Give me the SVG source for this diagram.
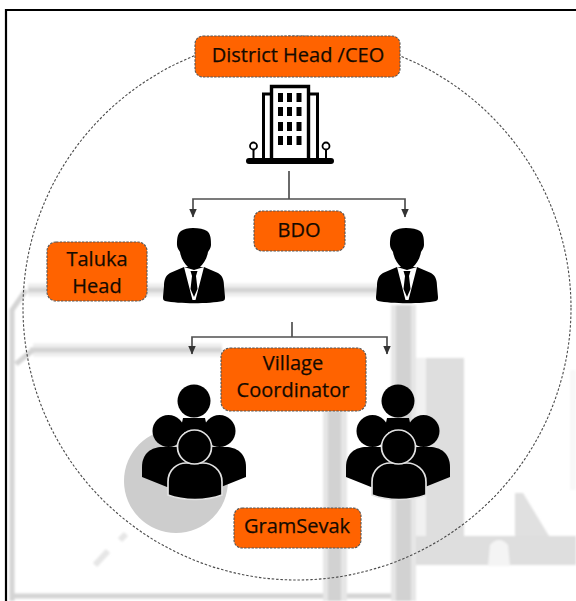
<svg xmlns="http://www.w3.org/2000/svg" width="576" height="601" viewBox="0 0 576 601">
<style>
.box{fill:#ff6300;stroke:#555;stroke-width:1.100;stroke-dasharray:2.500 1.200}
.t{font-family:"Open Sans","Noto Sans",sans-serif;font-size:20px;fill:#140a00;stroke:#140a00;stroke-width:.25;text-anchor:middle}
.conn{fill:none;stroke:#505050;stroke-width:1.700}
.k{fill:#000}
.halo{fill:#000;stroke:#e2e2e2;stroke-width:1.700}
.bar{fill:none;stroke:#d4d4d4}
.bar2{fill:none;stroke:#eeeeee}
</style>
<defs>
<filter id="soft" x="-5%" y="-5%" width="110%" height="110%"><feGaussianBlur stdDeviation="1.200"/></filter>
<marker id="arr" viewBox="0 0 9 9" refX="8.500" refY="4.500" markerWidth="9" markerHeight="9" markerUnits="userSpaceOnUse" orient="auto-start-reverse"><path d="M0 0.500L9 4.500L0 8.500Z" fill="#333"/></marker>
<g id="man">
<path class="k" d="M-1-55C-6-55-10-54-13-52C-17-49-17-43-17-38C-17-35-15-33-14-31C-13-24-9-19-6-16L-6-13L6-13L6-16C9-19 13-24 14-31C15-33 17-35 17-38C17-43 17-49 13-52C10-54 5-55-1-55Z"/>
<path class="k" d="M-10-16L-24-10C-29-7-30-2-30 3L-31 14C-31 16-31 17-29 18C-15 21 15 21 29 18C31 17 31 16 31 14L30 3C30-2 29-7 24-10L10-16Z"/>
<path fill="#fff" d="M-10-16L0-13L10-16L1.500 17L-1.500 17Z"/>
<path class="k" d="M-3.500-12L3.500-12L2-7L3.500 6L0 14L-3.500 6L-2-7Z"/>
</g>
<g id="group">
<circle class="k" cx="0" cy="-101" r="16.500"/>
<path class="k" d="M-11-84L11-84L14-70L-14-70Z"/>
<circle class="k" cx="-25.500" cy="-71" r="16"/>
<circle class="k" cx="25.500" cy="-71" r="16"/>
<path class="k" d="M-52-25L-52-35C-52-49-42-55-32-55L32-55C42-55 52-49 52-35L52-25L27-15L-27-15Z"/>
<path class="halo" d="M-26-7L-26-20C-26-33-16-39-8-39L9-39C17-39 28-33 28-20L28-7C12-1-10-1-26-7Z"/>
<circle class="halo" cx="0.500" cy="-55" r="17"/>
</g>
</defs>
<rect width="576" height="601" fill="#fff"/>
<g id="background" filter="url(#soft)">
<path class="bar2" stroke-width="13" d="M33 350H222M28 290H385"/>
<path class="bar" stroke-width="5" d="M30 350H222M28 290H385M12 601V310L26 290M33 350L16 364M10 596H400"/>
<rect x="391" y="305" width="25" height="296" fill="#e6e6e6"/>
<rect x="396" y="305" width="15" height="296" fill="#d2d2d2"/>
<rect x="323" y="411" width="24" height="190" fill="#e6e6e6"/>
<rect x="328" y="411" width="13" height="190" fill="#d2d2d2"/>
<rect x="416" y="358" width="10" height="178" fill="#f1f1f1"/>
<rect x="426" y="358" width="38" height="178" fill="#dedede"/>
<path fill="#dedede" d="M416 536H576V565H416Z"/>
<path fill="#f4f4f4" d="M490 545Q499 535 508 545L510 566H488Z"/>
<path fill="#e0e0e0" d="M515 493L523 493L549 536L515 536Z"/>
<rect x="570" y="370" width="6" height="120" fill="#f8f8f8"/>
<path fill="none" stroke="#e6e6e6" stroke-width="6" d="M95 565L108 551M120 540L126 534"/>
</g>
<circle cx="176" cy="481" r="52" fill="#cdcdcd"/>
<ellipse id="boundary" cx="297" cy="308" rx="274" ry="272" fill="none" stroke="#4a4a4a" stroke-width="1.100" stroke-dasharray="2.500 1.800"/>
<path id="frame" d="M6 601V10H576" fill="none" stroke="#000" stroke-width="2.200"/>
<g id="connectors">
<path class="conn" d="M289 171V199"/>
<path class="conn" d="M193 217V199H405V217" marker-start="url(#arr)" marker-end="url(#arr)"/>
<path class="conn" d="M292 322V337"/>
<path class="conn" d="M192 354V337H387V354" marker-start="url(#arr)" marker-end="url(#arr)"/>
</g>
<g id="district-head"><rect class="box" x="195" y="36" width="205" height="41" rx="8"/><text class="t" x="298" y="62">District Head /CEO</text></g>
<g id="building" fill="none" stroke="#000">
<path stroke-width="3.400" d="M271.500 160V86.500H308.500V160"/>
<path stroke-width="3" d="M263.500 160V94H271M309 94H317.500V160"/>
<path stroke-width="6" stroke-linecap="round" d="M249 161H331"/>
<circle cx="253.500" cy="146" r="3.500" stroke-width="1.800"/><path stroke-width="2" d="M253.500 150V159"/>
<circle cx="326" cy="146" r="3.500" stroke-width="1.800"/><path stroke-width="2" d="M326 150V159"/>
<g fill="#000" stroke="none">
<rect x="278" y="93" width="5" height="9"/><rect x="287" y="93" width="5" height="9"/><rect x="296.500" y="93" width="5" height="9"/>
<rect x="278" y="107" width="5" height="9"/><rect x="287" y="107" width="5" height="9"/><rect x="296.500" y="107" width="5" height="9"/>
<rect x="278" y="122" width="5" height="9"/><rect x="287" y="122" width="5" height="9"/><rect x="296.500" y="122" width="5" height="9"/>
<rect x="278" y="136" width="5" height="9"/><rect x="287" y="136" width="5" height="9"/><rect x="296.500" y="136" width="5" height="9"/>
</g>
</g>
<g id="bdo"><rect class="box" x="254" y="211" width="91" height="40" rx="8"/><text class="t" x="299" y="237">BDO</text></g>
<g id="taluka-head"><rect class="box" x="47" y="242" width="100" height="59" rx="9"/><text class="t" x="97" y="266">Taluka</text><text class="t" x="97" y="293">Head</text></g>
<use id="person-left" href="#man" x="194" y="283"/>
<use id="person-right" href="#man" x="407" y="283"/>
<g id="village-coordinator"><rect class="box" x="221" y="348" width="145" height="63" rx="9"/><text class="t" x="293" y="370">Village</text><text class="t" x="293" y="397">Coordinator</text></g>
<use id="group-left" href="#group" x="194" y="502"/>
<use id="group-right" href="#group" x="398" y="502"/>
<g id="gramsevak"><rect class="box" x="234" y="508" width="127" height="40" rx="8"/><text class="t" x="297" y="533">GramSevak</text></g>
</svg>
